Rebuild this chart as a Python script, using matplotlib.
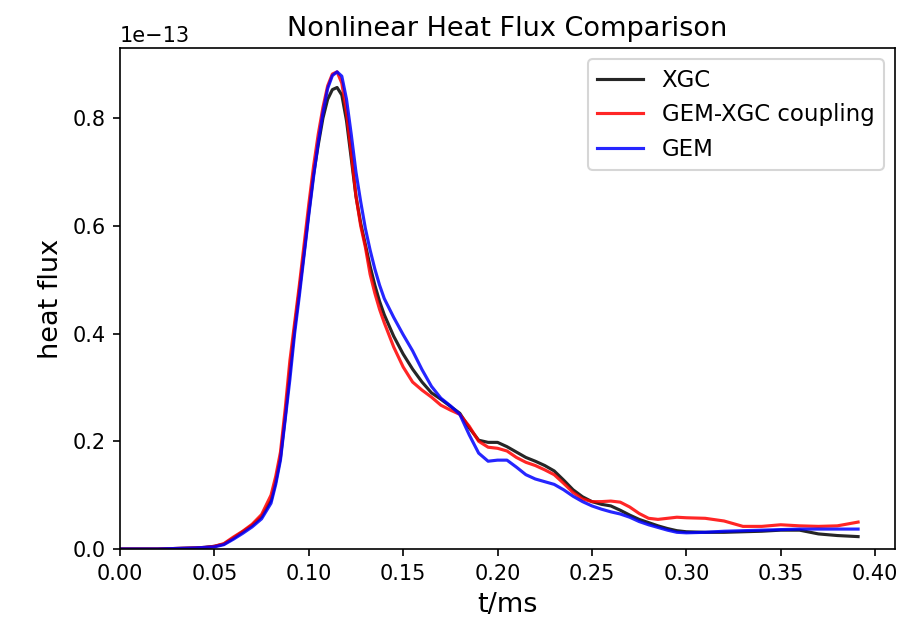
import matplotlib
matplotlib.use("Agg")
import matplotlib.pyplot as plt

t = [0.0, 0.01, 0.02, 0.03, 0.04, 0.045, 0.05, 0.055, 0.06, 0.065, 0.07, 0.075,
     0.08, 0.0825, 0.085, 0.0875, 0.09, 0.0925, 0.095, 0.0975, 0.10, 0.1025,
     0.105, 0.1075, 0.11, 0.1125, 0.115, 0.1175, 0.12, 0.1225, 0.125, 0.1275,
     0.13, 0.1325, 0.135, 0.1375, 0.14, 0.145, 0.15, 0.155, 0.16, 0.165, 0.17,
     0.175, 0.18, 0.185, 0.19, 0.195, 0.20, 0.205, 0.21, 0.215, 0.22, 0.225,
     0.23, 0.235, 0.24, 0.245, 0.25, 0.255, 0.26, 0.265, 0.27, 0.275, 0.28,
     0.285, 0.29, 0.295, 0.30, 0.31, 0.32, 0.33, 0.34, 0.35, 0.36, 0.37, 0.38,
     0.391]

xgc = [0.0, 0.0, 0.0, 0.001, 0.002, 0.003, 0.005, 0.009, 0.020, 0.032, 0.044, 0.060,
       0.090, 0.125, 0.170, 0.245, 0.330, 0.410, 0.480, 0.550, 0.625, 0.695,
       0.750, 0.800, 0.835, 0.853, 0.857, 0.843, 0.795, 0.725, 0.655, 0.605,
       0.565, 0.525, 0.490, 0.460, 0.435, 0.395, 0.362, 0.334, 0.310, 0.290, 0.278,
       0.265, 0.252, 0.225, 0.202, 0.198, 0.198, 0.190, 0.180, 0.170, 0.163, 0.155,
       0.145, 0.128, 0.110, 0.097, 0.088, 0.083, 0.080, 0.072, 0.063, 0.055, 0.049,
       0.043, 0.038, 0.034, 0.032, 0.031, 0.031, 0.032, 0.033, 0.035, 0.035, 0.028, 0.025,
       0.023]

coupling = [0.0, 0.0, 0.0, 0.001, 0.002, 0.003, 0.005, 0.010, 0.022, 0.033, 0.046, 0.064,
            0.100, 0.135, 0.180, 0.260, 0.350, 0.420, 0.490, 0.565, 0.640, 0.710,
            0.770, 0.820, 0.860, 0.882, 0.886, 0.865, 0.810, 0.735, 0.655, 0.600,
            0.560, 0.510, 0.475, 0.445, 0.420, 0.375, 0.338, 0.310, 0.295, 0.282, 0.267,
            0.258, 0.250, 0.228, 0.200, 0.189, 0.187, 0.182, 0.170, 0.161, 0.155, 0.147,
            0.138, 0.122, 0.105, 0.093, 0.088, 0.088, 0.089, 0.087, 0.078, 0.066, 0.057,
            0.055, 0.057, 0.059, 0.058, 0.057, 0.052, 0.042, 0.042, 0.045, 0.043, 0.042, 0.043,
            0.050]

gem = [0.0, 0.0, 0.0, 0.001, 0.002, 0.003, 0.004, 0.008, 0.018, 0.029, 0.041, 0.056,
       0.085, 0.120, 0.165, 0.240, 0.315, 0.400, 0.470, 0.545, 0.620, 0.690,
       0.755, 0.810, 0.855, 0.879, 0.886, 0.878, 0.835, 0.770, 0.700, 0.645,
       0.595, 0.555, 0.520, 0.490, 0.465, 0.430, 0.398, 0.368, 0.333, 0.302, 0.280,
       0.266, 0.250, 0.212, 0.178, 0.163, 0.165, 0.165, 0.152, 0.138, 0.130, 0.125,
       0.120, 0.110, 0.098, 0.088, 0.080, 0.074, 0.069, 0.065, 0.059, 0.051, 0.045,
       0.040, 0.035, 0.031, 0.030, 0.031, 0.033, 0.034, 0.035, 0.036, 0.037, 0.037, 0.037,
       0.037]

scale = 1e-13
labels = ["XGC", "GEM-XGC coupling", "GEM"]
colors = ["black", "red", "blue"]

fig = plt.figure(figsize=(6.12, 4.16), dpi=150)
ax = fig.add_axes([120/918, 75/624, 775/918, 501/624])

for series, lab, col in zip([xgc, coupling, gem], labels, colors):
    ax.plot(t, [v * scale for v in series], color=col, lw=1.5, alpha=0.85, label=lab)

ax.set_xlim(0, 0.391 * 1.05)
ax.set_ylim(0, 0.886 * scale * 1.05)
ax.set_xticks([0.0, 0.05, 0.10, 0.15, 0.20, 0.25, 0.30, 0.35, 0.40])
ax.set_yticks([0.0, 0.2e-13, 0.4e-13, 0.6e-13, 0.8e-13])
ax.ticklabel_format(axis="y", style="sci", scilimits=(-13, -13))
ax.tick_params(labelsize=10)
ax.yaxis.get_offset_text().set_fontsize(10)
ax.set_xlabel("t/ms", fontsize=13)
ax.set_ylabel("heat flux", fontsize=13)
ax.set_title("Nonlinear Heat Flux Comparison", fontsize=13)
ax.legend(loc="upper right", fontsize=11)

fig.savefig("out.png", dpi=150)
